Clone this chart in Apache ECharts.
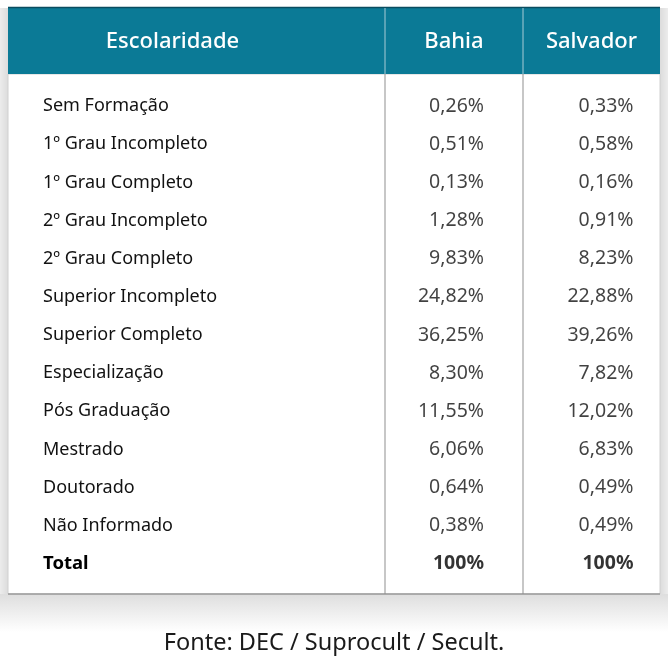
<!DOCTYPE html>
<html><head><meta charset="utf-8">
<script src="https://cdn.jsdelivr.net/npm/echarts@6/dist/echarts.min.js"></script>
<style>html,body{margin:0;padding:0;background:#fff}#c{width:668px;height:663px}</style>
</head><body><div id="c"></div>
<script>
const columns = ['Escolaridade', 'Bahia', 'Salvador'];
const categories = ['Sem Formação', '1º Grau Incompleto', '1º Grau Completo', '2º Grau Incompleto', '2º Grau Completo', 'Superior Incompleto', 'Superior Completo', 'Especialização', 'Pós Graduação', 'Mestrado', 'Doutorado', 'Não Informado', 'Total'];
const bahia = [0.26, 0.51, 0.13, 1.28, 9.83, 24.82, 36.25, 8.30, 11.55, 6.06, 0.64, 0.38, 100];
const salvador = [0.33, 0.58, 0.16, 0.91, 8.23, 22.88, 39.26, 7.82, 12.02, 6.83, 0.49, 0.49, 100];
const source = 'Fonte: DEC / Suprocult / Secult.';

const FONT = 'Noto Sans';
const TXT = '#121212';
function fmt(v) { return v === 100 ? '100%' : v.toFixed(2).replace('.', ',') + '%'; }

const chart = echarts.init(document.getElementById('c'), null, { renderer: 'canvas' });

function mkSeries(name, values, gi, off) {
  return {
    type: 'scatter', name: name, xAxisIndex: gi, yAxisIndex: gi,
    symbolSize: 1, itemStyle: { color: 'rgba(0,0,0,0)' }, z: 10,
    data: categories.map((c, i) => ({
      value: [columns[gi], c, values[i]],
      label: c === 'Total' ? { fontWeight: 'bold', color: '#000' } : undefined
    })),
    label: {
      show: true, position: 'inside', align: 'right', offset: [off, 0],
      fontFamily: FONT, fontSize: 19.5, color: TXT,
      formatter: p => fmt(p.value[2])
    },
    silent: true
  };
}

const gridTop = 87, gridBottom = 80;
const xAx = (gi, pad) => ({
  type: 'category', gridIndex: gi, data: [columns[gi]], position: 'top',
  axisLine: { show: false }, axisTick: { show: false }, splitLine: { show: false },
  axisLabel: { color: '#ffffff', fontFamily: FONT, fontSize: 22, fontWeight: 500, margin: 45, padding: pad, verticalAlign: 'middle' }
});
const yAx = (gi, show) => ({
  type: 'category', gridIndex: gi, data: categories, inverse: true,
  axisLine: { show: false }, axisTick: { show: false }, splitLine: { show: false },
  axisLabel: show ? {
    inside: true, margin: 35, align: 'left', fontFamily: FONT, fontSize: 18, color: TXT,
    formatter: v => v === 'Total' ? '{b|' + v + '}' : v,
    rich: { b: { fontWeight: 'bold', fontFamily: FONT, fontSize: 18.5, color: '#000' } }
  } : { show: false }
});

chart.setOption({
  animation: false,
  backgroundColor: '#ffffff',
  title: {
    text: source, left: 'center', top: 626,
    textStyle: { fontFamily: FONT, fontSize: 23.5, fontWeight: 'normal', color: '#1a1a1a' }
  },
  grid: [
    { left: 8, right: 283, top: gridTop, bottom: gridBottom },
    { left: 385, right: 145, top: gridTop, bottom: gridBottom },
    { left: 523, right: 8, top: gridTop, bottom: gridBottom }
  ],
  xAxis: [xAx(0, [0, 48, 0, 0]), xAx(1, 0), xAx(2, 0)],
  yAxis: [yAx(0, true), yAx(1, false), yAx(2, false)],
  series: [mkSeries('Bahia', bahia, 1, 30), mkSeries('Salvador', salvador, 2, 42)],
  graphic: [
    { type: 'rect', z: -10, shape: { x: 0, y: 8, width: 8, height: 586 },
      style: { fill: new echarts.graphic.LinearGradient(0, 0, 1, 0, [{ offset: 0, color: '#ececec' }, { offset: 1, color: '#dcdcdc' }]) } },
    { type: 'rect', z: -10, shape: { x: 660, y: 8, width: 8, height: 586 },
      style: { fill: new echarts.graphic.LinearGradient(0, 0, 1, 0, [{ offset: 0, color: '#dcdcdc' }, { offset: 1, color: '#ececec' }]) } },
    { type: 'rect', z: -10, shape: { x: 0, y: 594, width: 668, height: 38 },
      style: { fill: new echarts.graphic.LinearGradient(0, 0, 0, 1, [{ offset: 0, color: '#dedede' }, { offset: 1, color: '#ffffff' }]) } },
    { type: 'rect', z: -9, shape: { x: 8, y: 74, width: 652, height: 520 }, style: { fill: '#ffffff', stroke: '#d0d0d0', lineWidth: 1 } },
    { type: 'line', z: -8, shape: { x1: 8, y1: 594, x2: 660, y2: 594 }, style: { stroke: '#9a9a9a', lineWidth: 1.5 } },
    { type: 'rect', z: -8, shape: { x: 8, y: 8, width: 652, height: 66 }, style: { fill: '#0b7a96' } },
    { type: 'line', z: -7, shape: { x1: 8, y1: 7.5, x2: 660, y2: 7.5 }, style: { stroke: '#0a4d60', lineWidth: 1.5 } },
    { type: 'line', z: -7, shape: { x1: 385, y1: 8, x2: 385, y2: 74 }, style: { stroke: '#a9cbd5', lineWidth: 1 } },
    { type: 'line', z: -7, shape: { x1: 523, y1: 8, x2: 523, y2: 74 }, style: { stroke: '#a9cbd5', lineWidth: 1 } },
    { type: 'line', z: -7, shape: { x1: 385, y1: 74, x2: 385, y2: 594 }, style: { stroke: '#8f8f8f', lineWidth: 1 } },
    { type: 'line', z: -7, shape: { x1: 523, y1: 74, x2: 523, y2: 594 }, style: { stroke: '#8f8f8f', lineWidth: 1 } }
  ]
});
</script></body></html>
